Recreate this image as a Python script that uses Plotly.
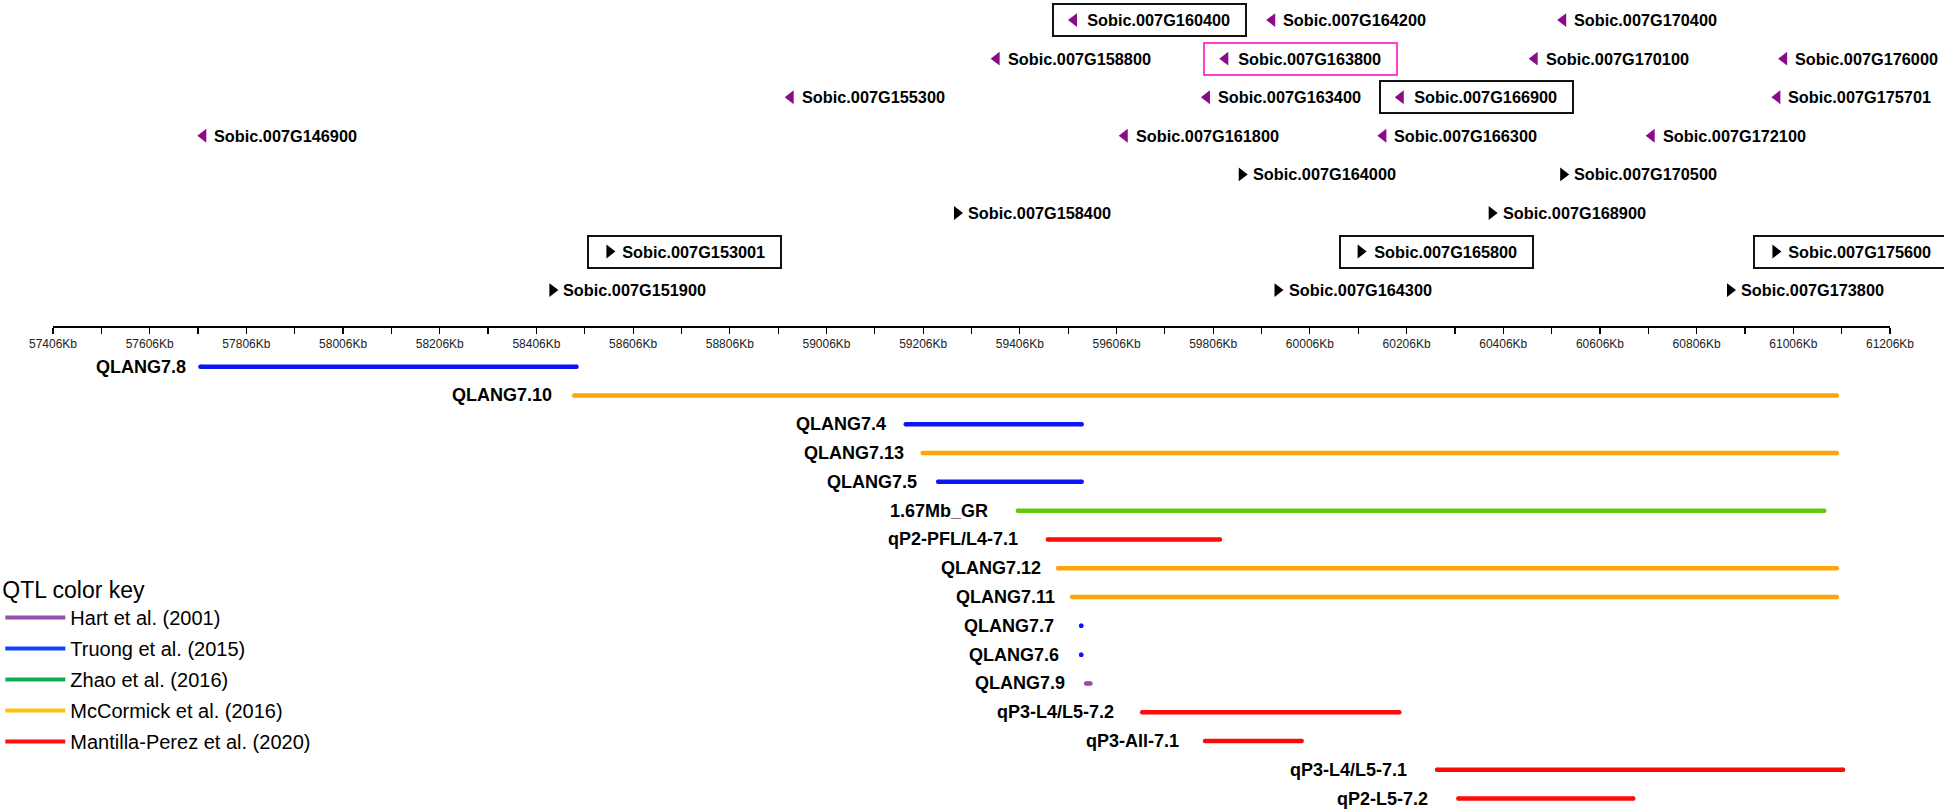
import plotly.graph_objects as go

# ---------------- data ----------------
AXIS_START_KB = 57406
AXIS_END_KB = 61206

gene_names = [
    "Sobic.007G160400", "Sobic.007G164200", "Sobic.007G170400",
    "Sobic.007G158800", "Sobic.007G163800", "Sobic.007G170100", "Sobic.007G176000",
    "Sobic.007G155300", "Sobic.007G163400", "Sobic.007G166900", "Sobic.007G175701",
    "Sobic.007G146900", "Sobic.007G161800", "Sobic.007G166300", "Sobic.007G172100",
    "Sobic.007G164000", "Sobic.007G170500",
    "Sobic.007G158400", "Sobic.007G168900",
    "Sobic.007G153001", "Sobic.007G165800", "Sobic.007G175600",
    "Sobic.007G151900", "Sobic.007G164300", "Sobic.007G173800",
]
gene_pos_kb = [
    59518, 59928, 60530,
    59358, 59831, 60471, 60987,
    58932, 59793, 60194, 60973,
    57717, 59623, 60158, 60713,
    59865, 60530,
    59276, 60382,
    58557, 60111, 60969,
    58439, 59939, 60875,
]
gene_strand = [
    "-", "-", "-",
    "-", "-", "-", "-",
    "-", "-", "-", "-",
    "-", "-", "-", "-",
    "+", "+",
    "+", "+",
    "+", "+", "+",
    "+", "+", "+",
]
gene_row = [
    8, 8, 8,
    7, 7, 7, 7,
    6, 6, 6, 6,
    5, 5, 5, 5,
    4, 4,
    3, 3,
    2, 2, 2,
    1, 1, 1,
]
gene_highlight = [
    "black", "", "",
    "", "pink", "", "",
    "", "", "black", "",
    "", "", "", "",
    "", "",
    "", "",
    "black", "black", "black",
    "", "", "",
]

qtl_names = [
    "QLANG7.8", "QLANG7.10", "QLANG7.4", "QLANG7.13", "QLANG7.5", "1.67Mb_GR",
    "qP2-PFL/L4-7.1", "QLANG7.12", "QLANG7.11", "QLANG7.7", "QLANG7.6", "QLANG7.9",
    "qP3-L4/L5-7.2", "qP3-All-7.1", "qP3-L4/L5-7.1", "qP2-L5-7.2",
]
qtl_start_kb = [57711, 58484, 59170, 59205, 59237, 59402, 59464, 59485, 59514,
                59533, 59533, 59543, 59659, 59789, 60269, 60313]
qtl_end_kb = [58489, 61096, 59534, 61096, 59534, 61070, 59820, 61096, 61096,
              59533, 59533, 59552, 60191, 59989, 61109, 60675]
qtl_study = ["Truong", "McCormick", "Truong", "McCormick", "Truong", "Zhao",
             "Mantilla", "McCormick", "McCormick", "Truong", "Truong", "Hart",
             "Mantilla", "Mantilla", "Mantilla", "Mantilla"]

study_keys = ["Hart", "Truong", "Zhao", "McCormick", "Mantilla"]
study_labels = ["Hart et al. (2001)", "Truong et al. (2015)", "Zhao et al. (2016)",
                "McCormick et al. (2016)", "Mantilla-Perez et al. (2020)"]

# ---------------- styles ----------------
FONT = "Arial, 'Liberation Sans', sans-serif"
study_line_color = {"Hart": "#a04aa8", "Truong": "#0a14f5", "Zhao": "#62c90c",
                    "McCormick": "#ffa50a", "Mantilla": "#ff0a0a"}
study_key_color = {"Hart": "#9b4dab", "Truong": "#1040ff", "Zhao": "#10b050",
                   "McCormick": "#ffc20a", "Mantilla": "#ff1010"}
# pixel gap between each QTL label and its bar
qtl_label_gap = [14, 22, 20, 19, 21, 30, 30, 17, 17, 27, 22, 21, 28, 26, 30, 30]
GENE_PURPLE = "#8a0a8a"
BOX_COLORS = {"black": "#111111", "pink": "#ff3fd2"}

fig = go.Figure()

# genes: arrows
for strand, sym, col in [("-", "triangle-left", GENE_PURPLE), ("+", "triangle-right", "#000000")]:
    xs = [p for p, s in zip(gene_pos_kb, gene_strand) if s == strand]
    ys = [r for r, s in zip(gene_row, gene_strand) if s == strand]
    fig.add_trace(go.Scatter(
        x=xs, y=ys, mode="markers", xaxis="x", yaxis="y",
        marker=dict(symbol=sym, size=12, color=col, line=dict(width=0)),
        showlegend=False, hoverinfo="skip"))

# gene labels
for name, pos, row, hl in zip(gene_names, gene_pos_kb, gene_row, gene_highlight):
    if hl:
        fig.add_annotation(
            x=pos, y=row, xref="x", yref="y", xanchor="left", yanchor="middle",
            text="&nbsp;" * 6 + name + "&nbsp;&nbsp;", showarrow=False,
            xshift=-22, bordercolor=BOX_COLORS[hl], borderwidth=2, borderpad=6,
            font=dict(family=FONT, size=16.3, color="#000000", weight="bold"))
    else:
        fig.add_annotation(
            x=pos, y=row, xref="x", yref="y", xanchor="left", yanchor="middle",
            text=name, showarrow=False, xshift=9,
            font=dict(family=FONT, size=16.3, color="#000000", weight="bold"))

# QTL bars, one trace per study
qtl_y = [-i for i in range(len(qtl_names))]
for key in study_keys:
    xs, ys = [], []
    for s, e, st, yv in zip(qtl_start_kb, qtl_end_kb, qtl_study, qtl_y):
        if st == key:
            xs += [s, e, None]
            ys += [yv, yv, None]
    fig.add_trace(go.Scatter(
        x=xs, y=ys, mode="lines+markers", xaxis="x2", yaxis="y2",
        line=dict(color=study_line_color[key], width=4.5),
        marker=dict(size=4.5, color=study_line_color[key]),
        showlegend=False, hoverinfo="skip", connectgaps=False))

# QTL labels
for name, s, yv, gap in zip(qtl_names, qtl_start_kb, qtl_y, qtl_label_gap):
    fig.add_annotation(
        x=s, y=yv, xref="x2", yref="y2", xanchor="right", yanchor="middle",
        text=name, showarrow=False, xshift=-gap + 2,
        font=dict(family=FONT, size=18, color="#000000", weight="bold"))

# legend entries (colour key)
for key, lab in zip(study_keys, study_labels):
    fig.add_trace(go.Scatter(
        x=[None], y=[None], mode="lines", xaxis="x2", yaxis="y2", name=lab,
        legendgroup=key,
        line=dict(color=study_key_color[key], width=4), showlegend=True))

W, H = 1944, 811
ML, MR = 52.7, 54
PW = W - ML - MR

fig.update_layout(
    width=W, height=H,
    margin=dict(l=ML, r=MR, t=0, b=0, pad=0),
    paper_bgcolor="white", plot_bgcolor="white",
    font=dict(family=FONT, color="#000000"),
    xaxis=dict(
        domain=[0, 1], anchor="y", range=[AXIS_START_KB, AXIS_END_KB],
        showline=True, linecolor="#000000", linewidth=1.5,
        ticks="outside", ticklen=6, tickwidth=1.2, tickcolor="#000000",
        tickmode="linear", tick0=AXIS_START_KB, dtick=200,
        tickformat="d", ticksuffix="Kb",
        tickfont=dict(size=12, color="#222222", family=FONT),
        minor=dict(ticks="outside", ticklen=6, tickwidth=1.2, tickcolor="#000000",
                   tick0=AXIS_START_KB, dtick=100, showgrid=False),
        showgrid=False, zeroline=False, fixedrange=True, automargin=False),
    yaxis=dict(domain=[1 - 326 / H, 1], anchor="x", range=[0.07, 8.52],
               visible=False, showgrid=False, zeroline=False),
    xaxis2=dict(domain=[0, 1], anchor="y2", range=[AXIS_START_KB, AXIS_END_KB],
                visible=False, showgrid=False, zeroline=False),
    yaxis2=dict(domain=[0, 1 - 345 / H], anchor="x2", range=[-15.43, 0.753],
                visible=False, showgrid=False, zeroline=False),
    legend=dict(
        title=dict(text="QTL color key", font=dict(size=23, family=FONT, color="#000000")),
        font=dict(size=20, family=FONT, color="#000000"),
        x=(0 - ML) / PW, xanchor="left", y=1 - 568 / H, yanchor="top",
        bgcolor="rgba(0,0,0,0)", itemwidth=60, tracegroupgap=2,
        traceorder="grouped"),
    showlegend=True,
)

fig.write_html(
    "out.html",
    config={"displayModeBar": False, "staticPlot": True},
    post_script="document.body.style.margin='0px';document.body.style.padding='0px';"
                "document.body.style.overflow='hidden';",
)
